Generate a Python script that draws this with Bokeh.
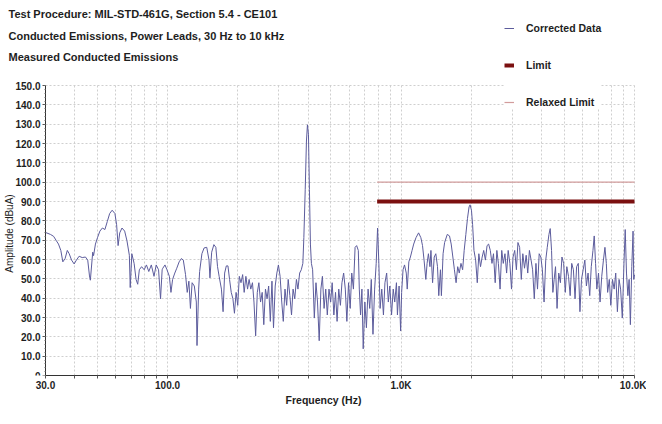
import math
from bokeh.plotting import figure
from bokeh.models import (FixedTicker, Label, Legend, LegendItem, NumeralTickFormatter,
                          LinearAxis, Grid, Range1d)
from bokeh.embed import file_html
from bokeh.resources import INLINE

# ---------------- data ----------------
freq_hz = [
    30.0, 31.5, 32.5, 33.4, 34.1, 34.9, 35.6, 36.4, 37.2, 37.9, 38.8, 39.8, 40.7, 41.8, 43.1, 44.5,
    45.5, 46.3, 46.7, 47.8, 48.2, 49.1, 50.1, 51.3, 52.6, 53.9, 55.2, 56.5, 57.9, 59.5, 60.5, 61.4,
    62.4, 63.8, 65.5, 67.0, 68.6, 69.2, 70.3, 71.9, 73.3, 74.5, 75.7, 77.4, 79.4, 81.2, 83.1, 85.2,
    87.5, 89.4, 91.5, 93.3, 94.8,
    95.4, 97.5, 99.4, 101.8, 103.4, 105.1, 107.4, 109.5, 112.1, 114.6, 116.8, 119.4, 121.4, 123.4,
    125.3, 127.4, 130.2, 132.8, 133.7, 135.9, 137.2, 140.3, 143.4, 147.2, 150.5, 151.9, 154.5, 157.9,
    161.0, 163.7, 166.3, 170.1, 172.9, 175.6, 178.5, 181.4, 184.3, 187.4, 190.5, 193.4, 196.6, 199.8,
    202.9, 206.3, 209.7, 212.9, 216.5, 220.1, 223.5, 227.2, 231.0, 234.5, 238.4, 242.3, 246.1, 250.2,
    254.3, 258.3, 262.6, 266.9, 271.0, 275.5, 280.0, 284.3, 289.1, 293.9, 298.4,
    303.4, 308.4, 313.1, 318.4, 323.7, 328.6, 334.1, 339.6, 344.8, 350.6, 356.4, 361.8, 367.9, 374.0,
    379.7, 383.5, 388.7, 393.4, 397.3, 401.3, 405.2, 409.1, 413.1, 418.2, 425.2, 432.2, 438.8, 446.2,
    453.6, 460.5, 468.2, 475.9, 483.3, 491.4, 499.5, 507.1, 515.6, 524.1, 532.2, 541.1, 550.0, 558.4,
    567.8, 577.2, 586.1, 595.9, 605.7, 615.0, 625.3, 635.6, 645.4, 656.2, 662.6, 670.8, 679.9, 688.6,
    700.0, 710.7, 722.6, 734.5, 745.8, 758.3, 770.8, 782.7, 793.5, 803.5, 813.5, 827.0, 840.8, 853.3,
    867.8, 882.3, 895.5, 910.7, 925.9, 939.8, 955.7,
    965.1, 981.0, 996.0, 1006, 1020, 1035, 1053, 1063, 1080, 1097, 1115, 1133, 1159, 1189, 1216, 1236,
    1255, 1277, 1293, 1310, 1330, 1343, 1365, 1387, 1409, 1433, 1451, 1475, 1489, 1514, 1537, 1578,
    1613, 1640, 1667, 1693, 1721, 1749, 1776, 1806, 1836, 1864, 1895, 1926, 1956, 1976, 2003, 2026,
    2053, 2087, 2121, 2154, 2190, 2226, 2260, 2298, 2336, 2372, 2412, 2452, 2489, 2531, 2573, 2612,
    2656, 2700, 2741, 2787, 2833, 2877, 2925,
    2973, 3018, 3069, 3120, 3168, 3221, 3274, 3324, 3380, 3436, 3489, 3547, 3606, 3661, 3722, 3783,
    3842, 3906, 3970, 4031, 4099, 4167, 4230, 4301, 4355, 4413, 4470, 4527, 4589, 4659, 4737, 4815,
    4889, 4971, 5053, 5130, 5216, 5302, 5384, 5474, 5564, 5649, 5744, 5839, 5929, 6028, 6128, 6222,
    6326, 6430, 6529, 6638, 6722, 6811, 6898, 7013, 7119, 7239, 7360, 7471, 7575, 7672, 7799, 7917,
    8050, 8183, 8309, 8448, 8587, 8720, 8866, 9012, 9124, 9241, 9367, 9484, 9602, 9735, 9858, 9924,
    10000,
]
amplitude_dbua = [
    74, 73, 72, 69.7, 68, 64.7, 58.8, 60.5, 64.7, 63, 59.7, 57.7, 59.7, 61.7, 61, 61.3,
    59.7, 51.5, 49.3, 63.8, 62, 68, 71.3, 74.7, 76.3, 75.5, 79.7, 83.8, 85.5, 83.8, 78, 67.2,
    73.8, 76.3, 74.7, 69.7, 62.2, 45.5, 63, 58, 49.7, 47.2, 54.7, 56.3, 54.7, 57.2, 53.8, 57.2,
    51.3, 57.2, 54.7, 39.7, 54.7,
    55.5, 57.2, 54.7, 51.3, 43, 49.7, 53, 55.5, 58.8, 60.5, 59.7, 52.2, 43, 48.8,
    34.7, 48, 46.3, 38, 15.5, 44.7, 53.8, 63, 66, 66.3, 59.7, 50.5, 63.8, 67.7,
    66.3, 56.3, 51.3, 44.7, 33, 53, 56.7, 56.7, 49.7, 43, 39.7, 32.2, 43, 36.3,
    51.3, 48, 52.2, 43, 51.3, 44.7, 49.7, 44.7, 48, 38, 20.5, 43, 48, 38,
    43, 26.3, 44.7, 39.7, 46.3, 28, 48.8, 24.7, 46.3, 53, 57.2,
    51.3, 38, 28, 44.7, 36.3, 49.7, 41.3, 31.3, 44.7, 39.7, 49.7, 44.7, 53, 54.7,
    58, 71.3, 96.3, 121.3, 129.7, 124.7, 96.3, 68, 58, 54.7, 29.7, 48, 38, 18,
    44.7, 51.3, 34.7, 44.7, 31.3, 44.7, 38, 48, 31.3, 43, 28, 44.7, 36.3, 48,
    53, 44.7, 28, 48, 34.7, 53, 44.7, 66.3, 67.2, 64.7, 44.7, 31.3, 44.7, 13.8,
    38, 24.7, 44.7, 34.7, 49.7, 21.3, 44.7, 58, 76.3, 58, 34.7, 44.7, 31.3, 48,
    53, 38, 46.3, 31.3, 44.7, 38, 48,
    31.3, 46.3, 23, 43, 54.7, 57.2, 53, 44.7, 58.8, 61.3, 64.7, 68, 71.3, 73.8, 71.3, 67.2,
    59.7, 49.7, 58, 63, 56.3, 64.7, 48, 61.3, 63, 56.3, 41.3, 54.7, 41.3, 63, 68.8, 73,
    72.2, 68, 61.3, 54.7, 48, 56.3, 53, 58, 54.7, 64.7, 73, 81.3, 87.2, 88.3, 85.5, 78,
    64.7, 59.7, 48, 63, 56.3, 61.3, 64.7, 59.7, 67.2, 68, 64.7, 58, 63, 48, 64.7, 58,
    44.7, 64.7, 58, 63, 53, 64.7, 58,
    44.7, 61.3, 64.7, 54.7, 68.8, 66.3, 49.7, 63, 55.5, 62.2, 53, 64.7, 59.7, 54.7, 39.7, 58,
    44.7, 63, 61.3, 54.7, 38, 59.7, 66.3, 73, 76, 64.7, 43, 49.7, 56.3, 34.7, 53, 48,
    61.3, 58, 43, 56.3, 51.3, 41.3, 58, 54.7, 39.7, 56.3, 58, 33, 49.7, 54.7, 59.7, 46.3,
    53, 41.3, 56.3, 64.7, 72.2, 58, 44.7, 53, 38, 51.3, 59.7, 66.3, 58, 43, 49.7, 36.3,
    49.7, 44.7, 53, 33, 49.7, 44.7, 29.7, 58, 75.5, 53, 41.3, 49.7, 26.3, 56.3, 74.7, 49.7,
    52,
]
limit_freq = [790, 10000]
limit_amp = [90, 90]
relaxed_freq = [790, 10000]
relaxed_amp = [100, 100]

x_ticks = [30, 40, 50, 60, 70, 80, 90, 100, 200, 300, 400, 500, 600, 700, 800, 900,
           1000, 2000, 3000, 4000, 5000, 6000, 7000, 8000, 9000, 10000]
x_tick_labels = {30: "30.0", 100: "100.0", 1000: "1.0K", 10000: "10.0K"}
y_ticks = list(range(0, 151, 10))
y_minor_ticks = list(range(0, 151, 2))

title_lines = [
    "Test Procedure: MIL-STD-461G, Section 5.4 - CE101",
    "Conducted Emissions, Power Leads, 30 Hz to 10 kHz",
    "Measured Conducted Emissions",
]

FONT = "Liberation Sans"
TXT = "#1e1e1e"

p = figure(width=646, height=408, x_axis_type="log", y_axis_location=None,
           x_range=Range1d(19.25, 11256), y_range=Range1d(0, 194),
           output_backend="svg", toolbar_location=None,
           min_border_left=0, min_border_right=0, min_border_top=0, min_border_bottom=28)
p.outline_line_color = None
p.background_fill_color = "white"
p.border_fill_color = "white"

# remove default grids; add bounded ones
p.center = [r for r in p.center if not isinstance(r, Grid)]
xticker = FixedTicker(ticks=x_ticks)
yticker = FixedTicker(ticks=y_ticks, minor_ticks=y_minor_ticks)
for g in (Grid(dimension=0, ticker=xticker, cross_bounds=(0, 150)),
          Grid(dimension=1, ticker=yticker, cross_bounds=(30, 10000))):
    g.grid_line_color = "#cfcfcf"
    g.grid_line_dash = "2 2"
    g.grid_line_width = 1
    p.add_layout(g)

r_data = p.line(freq_hz, amplitude_dbua, line_color="#5c5c9c", line_width=1)
r_rel = p.line(relaxed_freq, relaxed_amp, line_color="#d29c9c", line_width=1.2)
r_lim = p.line(limit_freq, limit_amp, line_color="#7b1010", line_width=4)

# axes
yaxis = LinearAxis(ticker=yticker, fixed_location=30, bounds=(0, 150),
                   formatter=NumeralTickFormatter(format="0.0"))
yaxis.major_label_overrides = {0: "0"}
p.add_layout(yaxis, "left")
xaxis = p.xaxis[0]
xaxis.ticker = xticker
xaxis.bounds = (30, 10000)
xaxis.major_label_overrides = {t: x_tick_labels.get(t, "") for t in x_ticks}
for ax in (xaxis, yaxis):
    ax.axis_line_color = "#333333"
    ax.major_tick_line_color = "#555555"
    ax.major_tick_in = 0
    ax.major_tick_out = 3
    ax.minor_tick_in = 0
    ax.minor_tick_out = 1
    ax.minor_tick_line_color = "#777777"
    ax.major_label_text_font = FONT
    ax.major_label_text_font_style = "bold"
    ax.major_label_text_font_size = "10px"
    ax.major_label_text_color = TXT
    ax.major_label_standoff = 2
xaxis.major_label_standoff = 1
xaxis.axis_label = "Frequency (Hz)"
xaxis.axis_label_text_font = FONT
xaxis.axis_label_text_font_style = "bold"
xaxis.axis_label_text_font_size = "10.5px"
xaxis.axis_label_text_color = TXT
xaxis.axis_label_standoff = 0

# y axis title
p.add_layout(Label(x=9, y=142, x_units="screen", y_units="screen", text="Amplitude (dBuA)",
                   angle=math.pi / 2, text_align="center", text_baseline="middle",
                   text_font=FONT, text_font_size="10px", text_color=TXT))

# title lines
for txt, yy in zip(title_lines, [362, 340, 319]):
    p.add_layout(Label(x=8, y=yy, x_units="screen", y_units="screen", text=txt,
                       text_align="left", text_baseline="middle", text_font=FONT,
                       text_font_style="bold", text_font_size="11px", text_color=TXT))

legend = Legend(items=[LegendItem(label="Corrected Data", renderers=[r_data]),
                       LegendItem(label="Limit", renderers=[r_lim]),
                       LegendItem(label="Relaxed Limit", renderers=[r_rel])],
                location=(504, 266), orientation="vertical",
                padding=4, spacing=23, glyph_width=10, glyph_height=10, label_height=14,
                label_standoff=12, margin=0,
                border_line_color=None, background_fill_color="white", background_fill_alpha=1.0,
                label_text_font=FONT, label_text_font_style="bold", label_text_font_size="10.5px",
                label_text_color=TXT)
p.add_layout(legend, "center")

open("out.html", "w").write(file_html(p, INLINE))
